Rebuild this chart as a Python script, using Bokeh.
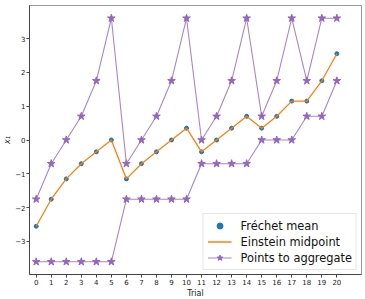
from bokeh.plotting import figure
from bokeh.models import FixedTicker, Range1d, Legend
from bokeh.embed import file_html
from bokeh.resources import INLINE

trials = list(range(21))
frechet_mean = [-2.55, -1.75, -1.15, -0.7, -0.35, 0.0, -1.15, -0.7, -0.35, 0.0, 0.35,
                -0.35, 0.0, 0.35, 0.7, 0.35, 0.7, 1.15, 1.15, 1.75, 2.55]
einstein_midpoint = [-2.55, -1.75, -1.15, -0.7, -0.35, 0.0, -1.15, -0.7, -0.35, 0.0, 0.35,
                     -0.35, 0.0, 0.35, 0.7, 0.35, 0.7, 1.15, 1.15, 1.75, 2.55]
points_upper = [-1.75, -0.7, 0.0, 0.7, 1.75, 3.6, -0.7, 0.0, 0.7, 1.75, 3.6,
                0.0, 0.7, 1.75, 3.6, 0.7, 1.75, 3.6, 1.75, 3.6, 3.6]
points_lower = [-3.6, -3.6, -3.6, -3.6, -3.6, -3.6, -1.75, -1.75, -1.75, -1.75, -1.75,
                -0.7, -0.7, -0.7, -0.7, 0.0, 0.0, 0.0, 0.7, 0.7, 1.75]
x_ticks = list(range(21))
y_ticks = [-3, -2, -1, 0, 1, 2, 3]

FONT = "DejaVu Sans"
PURPLE = "#9467bd"
ORANGE = "#ff7f0e"
BLUE = "#1f77b4"

p = figure(width=362, height=300, output_backend="svg", toolbar_location=None,
           x_range=Range1d(-0.446, 21.64), y_range=Range1d(-3.976, 3.976),
           min_border_left=28, min_border_right=1, min_border_top=5, min_border_bottom=22)

p.xgrid.visible = False
p.ygrid.visible = False
p.outline_line_color = "#999999"
p.outline_line_width = 1

r_f = p.scatter(trials, frechet_mean, size=4, color=BLUE, marker="circle")
r_e = p.line(trials, einstein_midpoint, color=ORANGE, line_width=1.3)
r_pu = p.line(trials, points_upper, color=PURPLE, line_width=1.1, line_alpha=0.8)
r_pus = p.scatter(trials, points_upper, marker="star", size=8, color=PURPLE)
r_pl = p.line(trials, points_lower, color=PURPLE, line_width=1.1, line_alpha=0.8)
r_pls = p.scatter(trials, points_lower, marker="star", size=8, color=PURPLE)

for ax in (p.xaxis[0], p.yaxis[0]):
    ax.major_label_text_font = FONT
    ax.major_label_text_font_size = "7px"
    ax.major_label_text_color = "#222222"
    ax.axis_label_text_font = FONT
    ax.axis_label_text_font_size = "8px"
    ax.axis_label_text_font_style = "normal"
    ax.axis_label_text_color = "#222222"
    ax.axis_line_color = "#444444"
    ax.major_tick_line_color = "#444444"
    ax.major_tick_out = 3
    ax.major_tick_in = 0
    ax.minor_tick_line_color = None
    ax.major_label_standoff = 1
    ax.axis_label_standoff = 1

p.xaxis.ticker = FixedTicker(ticks=x_ticks)
p.yaxis.ticker = FixedTicker(ticks=y_ticks)
p.xaxis.axis_label = "Trial"
p.yaxis.axis_label = "x₁"
p.yaxis.axis_label_text_font_style = "italic"
p.yaxis.major_label_orientation = "horizontal"
p.yaxis.axis_label_standoff = 0

legend = Legend(items=[("Fréchet mean", [r_f]),
                       ("Einstein midpoint", [r_e]),
                       ("Points to aggregate", [r_pu, r_pus])],
                location="bottom_right")
legend.label_text_font = FONT
legend.label_text_font_size = "11.4px"
legend.label_text_color = "#111111"
legend.glyph_width = 24
legend.glyph_height = 15
legend.label_height = 15
legend.label_standoff = 9
legend.spacing = 1
legend.padding = 4
legend.margin = 4
legend.border_line_color = "#cccccc"
legend.background_fill_alpha = 0.85
p.add_layout(legend)

open("out.html", "w").write(file_html(p, INLINE))
